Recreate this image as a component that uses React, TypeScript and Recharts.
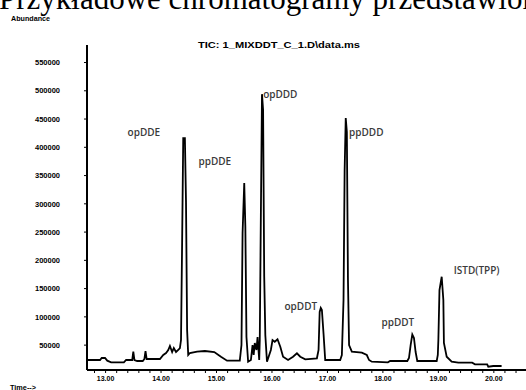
import { LineChart, Line, XAxis, YAxis, ReferenceDot } from 'recharts';

// retention time (min) and abundance
const retentionTimes = [
  12.68, 12.9, 12.93, 12.99, 13.03, 13.1, 13.33, 13.37, 13.48, 13.5, 13.52, 13.57, 13.67, 13.7, 13.72, 13.74,
  13.98, 14.04, 14.09, 14.13, 14.16, 14.2, 14.23, 14.27, 14.31, 14.34, 14.36, 14.38, 14.4, 14.43, 14.45, 14.47,
  14.49, 14.52, 14.65, 14.79, 14.96, 15.08, 15.19, 15.42, 15.45, 15.47, 15.5, 15.52, 15.54, 15.57, 15.62, 15.65,
  15.67, 15.69, 15.72, 15.74, 15.77, 15.78, 15.8, 15.82, 15.84, 15.86, 15.88, 15.91, 15.98, 16.01, 16.05, 16.1,
  16.15, 16.2, 16.29, 16.38, 16.45, 16.51, 16.6, 16.81, 16.84, 16.86, 16.88, 16.9, 16.93, 16.96, 17.23, 17.26,
  17.29, 17.31, 17.33, 17.35, 17.37, 17.39, 17.44, 17.62, 17.71, 17.75, 17.8, 18.09, 18.13, 18.44, 18.47, 18.5,
  18.53, 18.56, 18.59, 18.62, 18.97, 18.99, 19.0, 19.02, 19.06, 19.09, 19.1, 19.15, 19.24, 19.36, 19.61, 19.66,
  19.88, 19.9, 19.99, 20.14,
];
const abundance = [
  23700, 23700, 27200, 27200, 22500, 19600, 19600, 23700, 23700, 38400, 23700, 21900, 21900, 25500, 39600, 25500,
  25500, 32500, 36000, 41400, 48500, 37800, 44900, 37800, 41400, 44900, 59000, 232000, 416000, 416000, 303000, 76800,
  32500, 36000, 38400, 39600, 37800, 29500, 22500, 22500, 50200, 248000, 337000, 259000, 64400, 20700, 23700, 50200,
  32500, 53800, 41400, 64400, 23700, 59000, 284000, 494000, 466000, 172000, 68000, 20700, 41400, 59000, 56000, 60300,
  47200, 29500, 23700, 29500, 35500, 29500, 24900, 26700, 41400, 108600, 115700, 112100, 69700, 23700, 23700, 32500,
  129800, 359800, 451800, 427000, 165200, 50200, 38400, 36600, 32500, 23700, 20700, 19600, 21900, 21900, 27200, 50200,
  68800, 62600, 37800, 21900, 21900, 32500, 59000, 147500, 171000, 129800, 53800, 29500, 20700, 18900, 18900, 16100,
  16100, 11800, 13100, 13100,
];

const xTicks = [
  12.8, 13.0, 13.2, 13.4, 13.6, 13.8, 14.0, 14.2, 14.4, 14.6, 14.8, 15.0, 15.2, 15.4, 15.6, 15.8, 16.0, 16.2, 16.4,
  16.6, 16.8, 17.0, 17.2, 17.4, 17.6, 17.8, 18.0, 18.2, 18.4, 18.6, 18.8, 19.0, 19.2, 19.4, 19.6, 19.8, 20.0, 20.2, 20.4,
];
const yTicks = [50000, 100000, 150000, 200000, 250000, 300000, 350000, 400000, 450000, 500000, 550000];

const peakNames = ['opDDE', 'ppDDE', 'opDDD', 'opDDT', 'ppDDD', 'ppDDT', 'ISTD(TPP)'];
const peakLabelTimes = [13.69, 14.97, 16.15, 16.52, 17.7, 18.27, 19.69];
const peakLabelLevels = [426500, 375700, 494200, 120000, 427000, 91000, 183000];

const data = retentionTimes.map((t, i) => ({ t, a: abundance[i] }));

const axisFont = '"Liberation Sans", Arial, sans-serif';

function TimeTick(props: any) {
  const { x, y, payload } = props;
  const v = payload.value;
  const isMajor = Math.abs(v - Math.round(v)) < 1e-6;
  if (!isMajor) return <g />;
  return (
    <text x={x} y={y + 6} textAnchor="middle" fontFamily={axisFont} fontWeight="bold" fontSize={7} fill="#000">
      {v.toFixed(2)}
    </text>
  );
}

function AbundanceTick(props: any) {
  const { x, y, payload } = props;
  return (
    <text x={x} y={y + 2.7} textAnchor="end" fontFamily={axisFont} fontWeight="bold" fontSize={7.5} fill="#000">
      {payload.value}
    </text>
  );
}

function PeakLabel({ viewBox, text }: any) {
  const cx = viewBox.x + viewBox.width / 2;
  const cy = viewBox.y + viewBox.height / 2;
  return (
    <text
      x={cx}
      y={cy}
      textAnchor="middle"
      dominantBaseline="central"
      fontFamily='"Open Sans", sans-serif'
      fontWeight={600}
      fontSize={10}
      fill="#3a3a3a"
    >
      {text}
    </text>
  );
}

export default function App() {
  return (
    <div style={{ position: 'absolute', left: 0, top: 0, width: 526, height: 390, background: '#fff' }}>
      <LineChart width={526} height={390} data={data} margin={{ top: 45, right: 0, bottom: 0, left: 27 }}>
        <text x={-1} y={9} fontFamily='"Liberation Serif", serif' fontSize={31} fill="#000">
          Przykładowe chromatogramy przedstawiono
        </text>
        <text x={11} y={20.5} fontFamily={axisFont} fontWeight="bold" fontSize={7} fill="#000" textLength={39} lengthAdjust="spacingAndGlyphs">
          Abundance
        </text>
        <text x={198} y={47.5} fontFamily={axisFont} fontWeight="bold" fontSize={9} fill="#000" textLength={162} lengthAdjust="spacingAndGlyphs">
          TIC: 1_MIXDDT_C_1.D\data.ms
        </text>
        <text x={10} y={390} fontFamily={axisFont} fontWeight="bold" fontSize={7} fill="#000" textLength={26} lengthAdjust="spacingAndGlyphs">
          Time--&gt;
        </text>
        <XAxis
          type="number"
          dataKey="t"
          domain={[12.665, 20.58]}
          ticks={xTicks}
          interval={0}
          allowDataOverflow
          height={20}
          tickSize={3}
          axisLine={{ stroke: '#000', strokeWidth: 2 }}
          tickLine={{ stroke: '#000', strokeWidth: 1 }}
          tick={<TimeTick />}
        />
        <YAxis
          type="number"
          domain={[6000, 581000]}
          ticks={yTicks}
          interval={0}
          allowDataOverflow
          width={60}
          tickSize={3}
          tickMargin={24}
          axisLine={{ stroke: '#000', strokeWidth: 2 }}
          tickLine={{ stroke: '#000', strokeWidth: 1 }}
          tick={<AbundanceTick />}
        />
        <Line
          type="linear"
          dataKey="a"
          stroke="#000"
          strokeWidth={1.8}
          dot={false}
          isAnimationActive={false}
        />
        {peakNames.map((name, i) => (
          <ReferenceDot
            key={name}
            x={peakLabelTimes[i]}
            y={peakLabelLevels[i]}
            r={1}
            fill="none"
            stroke="none"
            label={(p: any) => <PeakLabel viewBox={p.viewBox} text={name} />}
          />
        ))}
      </LineChart>
    </div>
  );
}
